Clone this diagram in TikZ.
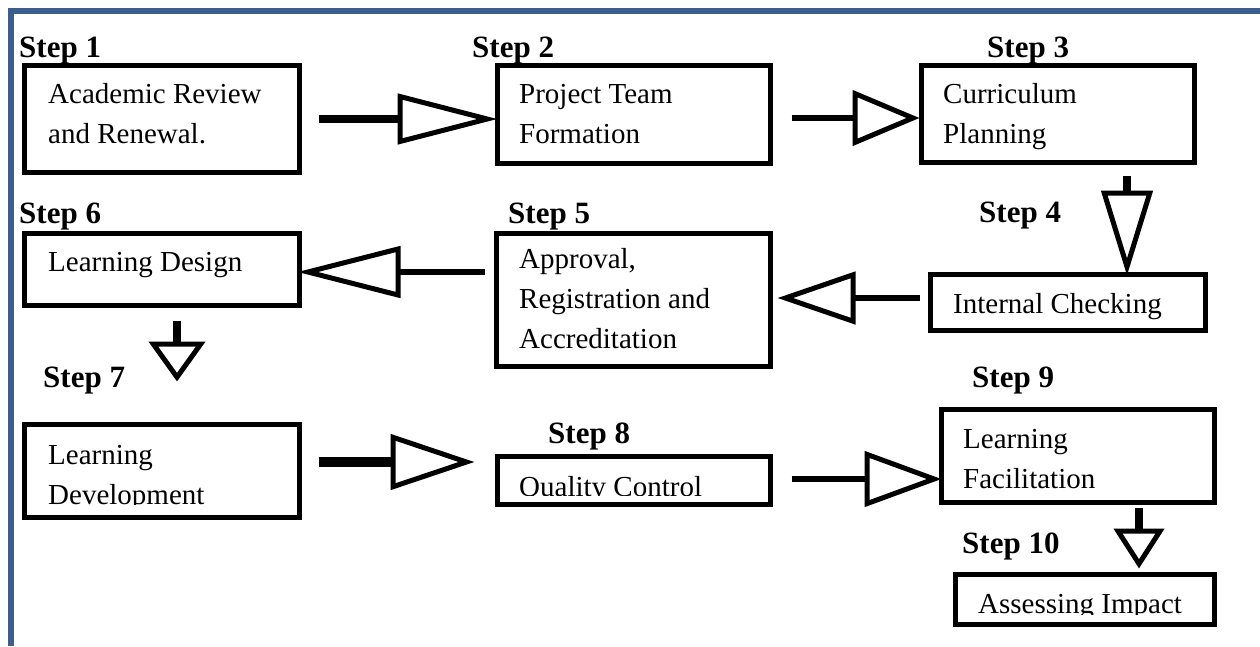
\documentclass[tikz,border=0pt]{standalone}
\usepackage{fontspec}
\setmainfont{Liberation Serif}
\usetikzlibrary{arrows.meta}
\definecolor{frameblue}{HTML}{3B5E8C}

\begin{document}
\begin{tikzpicture}[x=1pt,y=-1pt,
  box/.style 2 args={draw, line width=5pt, inner sep=0pt,
    minimum width=#1, minimum height=#2},
  txt/.style={anchor=base west, align=left, inner sep=0pt,
    font=\fontsize{29pt}{40pt}\selectfont},
  lbl/.style={anchor=base west, inner sep=0pt,
    font=\bfseries\fontsize{31pt}{37pt}\selectfont},
  flow/.style 2 args={-{Triangle[open, length=#1, width=#2, line width=5pt]}}]

\useasboundingbox (0,0) rectangle (1260,646);

% page frame
\draw[frameblue, line width=6pt] (11,646) -- (11,11) -- (1260,11);

% process boxes
\node[box={275pt}{107pt}] (b1) at (162,119) {};
\node[box={273pt}{98pt}]  (b2) at (634,114.5) {};
\node[box={273pt}{97pt}]  (b3) at (1058,114) {};
\node[box={275pt}{56pt}]  (b4) at (1068,302.5) {};
\node[box={274pt}{133pt}] (b5) at (633.5,300) {};
\node[box={275pt}{72pt}]  (b6) at (162,269.5) {};
\node[box={275pt}{93pt}]  (b7) at (162,471) {};
\node[box={273pt}{48pt}]  (b8) at (634,480.5) {};
\node[box={273pt}{93pt}]  (b9) at (1078,456) {};
\node[box={259pt}{50pt}]  (b10) at (1085,599.5) {};

% box texts (base anchor sits on the last line)
\node[txt] (t1) at (48,143) {Academic Review\\and Renewal.};
\node[txt] (t2) at (519,143) {Project Team\\Formation};
\node[txt] (t3) at (943,143) {Curriculum\\Planning};
\node[txt] (t4) at (953,313) {Internal Checking};
\node[txt] (t5) at (519,348) {Approval,\\Registration and\\Accreditation};
\node[txt] (t6) at (48,271) {Learning Design};
\begin{scope}
  \clip ([shift={(2.5pt,-2.5pt)}]b7.north west) rectangle ([shift={(-2.5pt,15.5pt)}]b7.south east);
  \node[txt] (t7) at (48,504) {Learning\\Development};
\end{scope}
\begin{scope}
  \clip ([shift={(2.5pt,-2.5pt)}]b8.north west) rectangle ([shift={(-2.5pt,11.5pt)}]b8.south east);
  \node[txt] (t8) at (519,496) {Quality Control};
\end{scope}
\node[txt] (t9) at (963,488) {Learning\\Facilitation};
\begin{scope}
  \clip ([shift={(2.5pt,-2.5pt)}]b10.north west) rectangle ([shift={(-2.5pt,13pt)}]b10.south east);
  \node[txt] (t10) at (978,613) {Assessing Impact};
\end{scope}

% step labels
\node[lbl] (s1) at (19,57) {Step 1};
\node[lbl] (s2) at (472,57) {Step 2};
\node[lbl] (s3) at (987,57) {Step 3};
\node[lbl] (s4) at (979,222) {Step 4};
\node[lbl] (s5) at (508,223) {Step 5};
\node[lbl] (s6) at (19,223) {Step 6};
\node[lbl] (s7) at (43,387) {Step 7};
\node[lbl] (s8) at (548,443) {Step 8};
\node[lbl] (s9) at (972,387) {Step 9};
\node[lbl] (s10) at (962,553) {Step 10};

% connectors
\draw[flow={100pt}{50pt}, line width=8pt, shorten <=16.5pt, shorten >=-2.5pt]
  (b1.east) -- (b1.east -| b2.west);
\draw[flow={67pt}{55pt}, line width=6pt, shorten <=18.5pt, shorten >=-0.5pt]
  ([yshift=-3.5pt]b2.east) -- ([yshift=-3.5pt]b2.east -| b3.west);
\draw[flow={85pt}{51pt}, line width=8pt, shorten <=10.5pt, shorten >=-3.5pt]
  ([xshift=69pt]b3.south) -- ([xshift=69pt]b3.south |- b4.north);
\draw[flow={78pt}{52pt}, line width=6pt, shorten <=8.5pt, shorten >=4.5pt]
  ([yshift=4.5pt]b4.west) -- ([yshift=4.5pt]b4.west -| b5.east);
\draw[flow={103pt}{51pt}, line width=6pt, shorten <=9.5pt, shorten >=-4.5pt]
  ([yshift=28pt]b5.west) -- ([yshift=28pt]b5.west -| b6.east);
\draw[flow={40pt}{56pt}, line width=8pt, shorten <=12.5pt, shorten >=40.5pt]
  ([xshift=15pt]b6.south) -- ([xshift=15pt]b6.south |- b7.north);
\draw[flow={84pt}{55pt}, line width=10pt, shorten <=16.5pt, shorten >=20.5pt]
  ([yshift=9pt]b7.east) -- ([yshift=9pt]b7.east -| b8.west);
\draw[flow={77pt}{55pt}, line width=6pt, shorten <=18.5pt, shorten >=-2.5pt]
  ([yshift=1.5pt]b8.east) -- ([yshift=1.5pt]b8.east -| b9.west);
\draw[flow={40pt}{50pt}, line width=8pt, shorten <=2.5pt, shorten >=3.5pt]
  ([xshift=61pt]b9.south) -- ([xshift=61pt]b9.south |- b10.north);
\end{tikzpicture}
\end{document}
